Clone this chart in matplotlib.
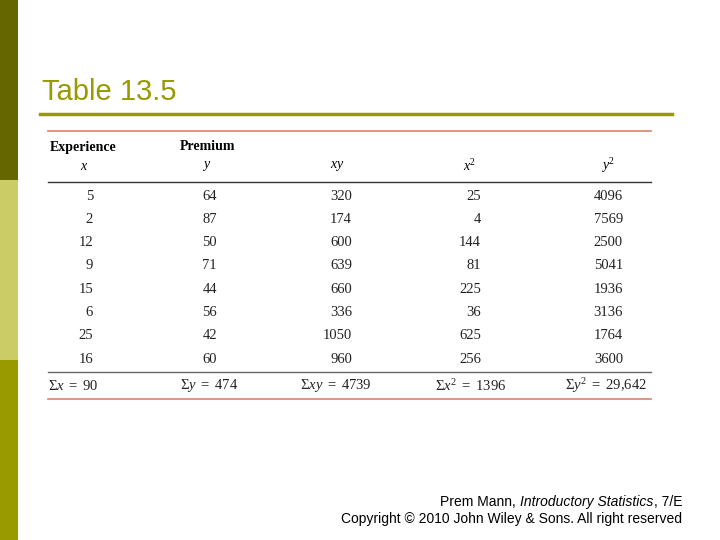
import matplotlib.pyplot as plt

# donnees du tableau 13.5
x_vals = [5, 2, 12, 9, 15, 6, 25, 16]
y_vals = [64, 87, 50, 71, 44, 56, 42, 60]
xy_vals = [320, 174, 600, 639, 660, 336, 1050, 960]
x2_vals = [25, 4, 144, 81, 225, 36, 625, 256]
y2_vals = [4096, 7569, 2500, 5041, 1936, 3136, 1764, 3600]
sommes = [r'$\Sigma x\ =\ 90$', r'$\Sigma y\ =\ 474$', r'$\Sigma xy\ =\ 4739$',
          r'$\Sigma x^2\ =\ 1396$', r'$\Sigma y^2\ =\ 29{,}642$']

plt.rcParams['mathtext.fontset'] = 'custom'
plt.rcParams['mathtext.rm'] = 'Liberation Serif'
plt.rcParams['mathtext.it'] = 'Liberation Serif:italic'

fig = plt.figure(figsize=(7.2, 5.4), dpi=100)
ax = fig.add_axes([0, 0, 1, 1])
ax.set_xlim(0, 720)
ax.set_ylim(540, 0)
ax.axis('off')

# bande de gauche
ax.add_patch(plt.Rectangle((0, 0), 18, 180, color='#666600', lw=0))
ax.add_patch(plt.Rectangle((0, 180), 18, 180, color='#cccc66', lw=0))
ax.add_patch(plt.Rectangle((0, 360), 18, 180, color='#999900', lw=0))

ax.text(42, 92, 'Table 13.5', fontsize=21, color='#999900',
        family='Liberation Sans', va='center')
ax.plot([40, 672], [114, 114], color='#999900', lw=2.5)

serif = 'Liberation Serif'
ax.plot([48, 651], [131, 131], color='#d9826a', lw=1.2)
ax.text(50, 147, 'Experience', family=serif, weight='bold', fontsize=10, va='center')
ax.text(180, 147, 'Premium', family=serif, weight='bold', fontsize=10, va='center')
heads = [r'$x$', r'$y$', r'$xy$', r'$x^2$', r'$y^2$']
hx = [84, 207, 337, 470, 608]
for h, xx in zip(heads, hx):
    ax.text(xx, 166, h, fontsize=10, ha='center', va='center', weight='bold')
ax.plot([48, 651], [182, 182], color='#333333', lw=1)

cols = [x_vals, y_vals, xy_vals, x2_vals, y2_vals]
right = [93, 217, 352, 481, 623]
for c, r in zip(cols, right):
    for i, v in enumerate(c):
        ax.text(r, 196 + i * 23.3, str(v), family=serif, fontsize=10.5,
                ha='right', va='center', color='#222222')

ax.plot([48, 651], [372, 372], color='#666666', lw=1)
sx = [48, 180, 300, 435, 565]
for s, xx in zip(sommes, sx):
    ax.text(xx, 386, s, fontsize=10.5, va='center', color='#222222')
ax.plot([48, 651], [399, 399], color='#d9826a', lw=1.2)

# pied de page : trois morceaux colles de droite a gauche
fig.canvas.draw()
r = fig.canvas.get_renderer()
inv = ax.transData.inverted()
xr = 682
for morceau, style in [(', 7/E', 'normal'), ('Introductory Statistics', 'italic'),
                       ('Prem Mann, ', 'normal')]:
    t = ax.text(xr, 502, morceau, fontsize=10, ha='right', va='center',
                family='Liberation Sans', style=style)
    bb = t.get_window_extent(r)
    xr = inv.transform((bb.x0, bb.y0))[0]
ax.text(682, 519, 'Copyright © 2010 John Wiley & Sons. All right reserved',
        fontsize=10, ha='right', va='center', family='Liberation Sans')

fig.savefig('out.png', dpi=100)
